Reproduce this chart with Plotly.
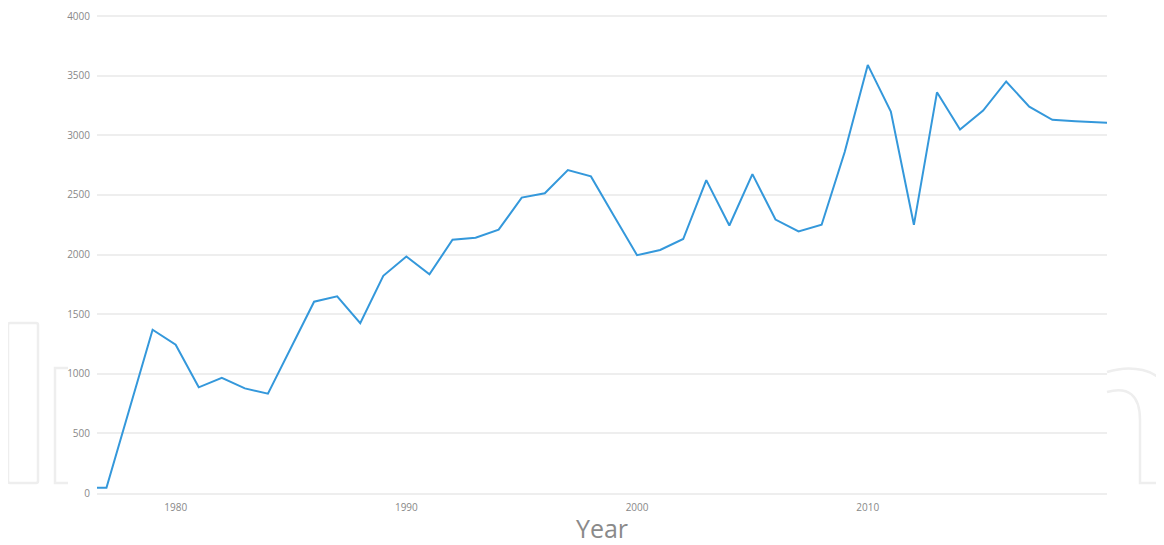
import plotly.graph_objects as go

years = list(range(1976, 2022))
values = [44, 44, 707, 1369, 1244, 886, 966, 877, 833, 1219,
          1604, 1649, 1424, 1821, 1983, 1833, 2124, 2141, 2208, 2477,
          2513, 2708, 2655, 2323, 1994, 2038, 2130, 2624, 2243, 2674,
          2293, 2193, 2249, 2860, 3590, 3199, 2249, 3360, 3049, 3207,
          3451, 3240, 3129, 3118, 3108, 3100]

x_ticks = [1980, 1990, 2000, 2010]
y_ticks = [0, 500, 1000, 1500, 2000, 2500, 3000, 3500, 4000]

OFF = 8  # page body margin
W, H = 1164 - OFF, 545 - OFF
L, T = 97 - OFF, 12 - OFF
R = W - (1107 - OFF)
B = H - (493 - OFF)
pw, ph = W - L - R, H - T - B
y_top = 4000 * (493 - 12) / (493 - 16)


def px(x):
    return (x - OFF - L) / pw


def py(y):
    return (H - B - (y - OFF)) / ph


fig = go.Figure()
fig.add_trace(go.Scatter(
    x=years, y=values, mode="lines",
    line=dict(color="#3498db", width=2),
    hoverinfo="x+y", showlegend=False,
))

wm = "#eeeeee"
# faint watermark logo behind chart
shapes = [
    dict(type="path", xref="paper", yref="paper", layer="below",
         path=f"M {px(10)},{py(323)} L {px(36)},{py(323)} Q {px(38)},{py(323)} {px(38)},{py(325)} "
              f"L {px(38)},{py(481)} Q {px(38)},{py(483)} {px(36)},{py(483)} L {px(10)},{py(483)} "
              f"Q {px(8)},{py(483)} {px(8)},{py(481)} L {px(8)},{py(325)} Q {px(8)},{py(323)} {px(10)},{py(323)} Z",
         line=dict(color=wm, width=2.5)),
    dict(type="path", xref="paper", yref="paper", layer="below",
         path=f"M {px(68)},{py(368)} L {px(55)},{py(368)} L {px(55)},{py(483)} L {px(68)},{py(483)}",
         line=dict(color=wm, width=2.5)),
    dict(type="path", xref="paper", yref="paper", layer="below",
         path=f"M {px(1107)},{py(372)} C {px(1132)},{py(364)} {px(1158)},{py(370)} {px(1164)},{py(386)}",
         line=dict(color=wm, width=2.5)),
    dict(type="path", xref="paper", yref="paper", layer="below",
         path=f"M {px(1107)},{py(392)} C {px(1128)},{py(386)} {px(1140)},{py(395)} {px(1140)},{py(420)} "
              f"L {px(1140)},{py(483)} L {px(1164)},{py(483)}",
         line=dict(color=wm, width=2.5)),
]

fig.update_layout(
    width=W, height=H,
    margin=dict(l=L, r=R, t=T, b=B, pad=0),
    paper_bgcolor="white", plot_bgcolor="rgba(0,0,0,0)",
    font=dict(family="Open Sans, Noto Sans, sans-serif", color="#888888", size=10),
    shapes=shapes,
    xaxis=dict(
        range=[1976.59, 2020.37], tickvals=x_ticks, ticktext=[str(v) for v in x_ticks],
        showgrid=False, zeroline=False, showline=True, linecolor="#eeeeee", linewidth=1.5,
        ticks="", ticklabelstandoff=4, automargin=False,
        tickfont=dict(size=10, color="#888888"),
        title=dict(text="Year", font=dict(size=25, color="#8a8a8a"), standoff=0),
    ),
    yaxis=dict(
        range=[0, y_top], tickvals=y_ticks, ticktext=[str(v) for v in y_ticks],
        showgrid=True, gridcolor="#eeeeee", gridwidth=1.5, zeroline=False,
        showline=False, ticks="", ticklabelstandoff=6, automargin=False,
        ticklabeloverflow="allow",
        tickfont=dict(size=10, color="#888888"),
    ),
)

fig.write_html("out.html")
